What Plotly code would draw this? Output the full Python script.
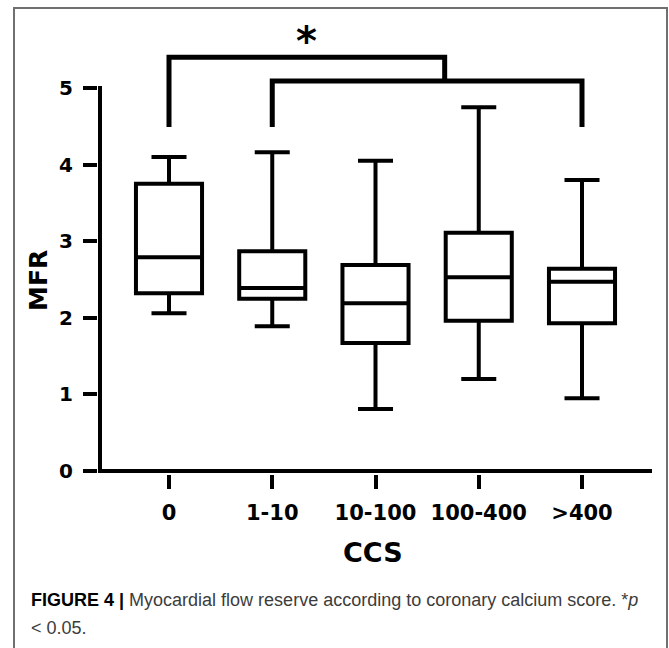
import plotly.graph_objects as go

# ---- data ----
categories = ["0", "1-10", "10-100", "100-400", ">400"]
whisker_low = [2.06, 1.89, 0.81, 1.20, 0.95]
q1 = [2.32, 2.25, 1.67, 1.96, 1.93]
median = [2.79, 2.39, 2.19, 2.53, 2.47]
q3 = [3.75, 2.87, 2.69, 3.11, 2.64]
whisker_high = [4.10, 4.16, 4.05, 4.75, 3.80]
y_ticks = [0, 1, 2, 3, 4, 5]

# significance brackets: (x_left, x_right, level, leg bottom left, leg bottom right)
bracket_a = (0, 2.67, 5.40, 4.49, 5.09)
bracket_b = (1, 4, 5.09, 4.49, 4.49)
star_label = "*"

x_title = "CCS"
y_title = "MFR"
caption1 = ("<b>FIGURE 4 |</b> <span style='color:#3c3c3c'>Myocardial flow reserve according "
            "to coronary calcium score. *<i>p</i></span>")
caption2 = "<span style='color:#3c3c3c'>< 0.05.</span>"

# ---- geometry ----
W, H = 669, 648
L, R, T, B = 98, 654, 14, 474
px_per_x = 103.25
px_per_y = 76.6
x0_pix = 169
y0_pix = 471
xr = [-(x0_pix - L) / px_per_x, (R - x0_pix) / px_per_x]
yr = [-(B - y0_pix) / px_per_y, (y0_pix - T) / px_per_y]
pw, ph = R - L, B - T

def px(xp):
    return (xp - L) / pw

def py(yp):
    return (B - yp) / ph

idx = list(range(len(categories)))

fig = go.Figure()
fig.add_trace(go.Box(
    x=idx, q1=q1, median=median, q3=q3,
    lowerfence=whisker_low, upperfence=whisker_high,
    width=0.64, whiskerwidth=0.53,
    line=dict(color="black", width=4), fillcolor="white",
    boxpoints=False, showlegend=False, hoverinfo="skip",
))

shapes = []
# axis lines
shapes.append(dict(type="line", xref="x", yref="y",
                   x0=xr[0] + 2 / px_per_x, x1=xr[0] + 2 / px_per_x,
                   y0=-2 / px_per_y, y1=y_ticks[-1] + 2 / px_per_y,
                   line=dict(color="black", width=4)))
shapes.append(dict(type="line", xref="x", yref="y",
                   x0=xr[0], x1=xr[0] + 554 / px_per_x, y0=0, y1=0,
                   line=dict(color="black", width=4)))
# brackets
for (xa, xb, lvl, la, lb) in (bracket_a, bracket_b):
    shapes.append(dict(type="path", xref="x", yref="y",
                       path=f"M {xa},{la} L {xa},{lvl} L {xb},{lvl} L {xb},{lb}",
                       line=dict(color="black", width=5)))
# frame
shapes.append(dict(type="rect", xref="paper", yref="paper",
                   x0=px(14), x1=px(667), y0=py(690), y1=py(8),
                   line=dict(color="#707070", width=2), fillcolor="rgba(0,0,0,0)"))

ann = []
ann.append(dict(x=(bracket_a[0] + bracket_a[1]) / 2, y=5.69, xref="x", yref="y",
                text=star_label, showarrow=False, yshift=-6,
                font=dict(family="DejaVu Sans", size=40, color="black", weight="bold")))
ann.append(dict(x=px(38), y=py(281), xref="paper", yref="paper", text=y_title,
                textangle=-90, showarrow=False, xanchor="center", yanchor="middle",
                font=dict(family="DejaVu Sans", size=25, color="black", weight="bold")))
ann.append(dict(x=px(373), y=py(552), xref="paper", yref="paper", text=x_title,
                showarrow=False, xanchor="center", yanchor="middle",
                font=dict(family="DejaVu Sans", size=27, color="black", weight="bold")))
ann.append(dict(x=px(29), y=py(600), xref="paper", yref="paper", text=caption1,
                showarrow=False, xanchor="left", yanchor="middle", align="left",
                font=dict(family="Liberation Sans", size=18, color="black")))
ann.append(dict(x=px(29), y=py(628), xref="paper", yref="paper", text=caption2,
                showarrow=False, xanchor="left", yanchor="middle", align="left",
                font=dict(family="Liberation Sans", size=18, color="black")))

fig.update_layout(
    width=W, height=H,
    margin=dict(l=L, r=W - R, t=T, b=H - B, pad=0),
    paper_bgcolor="white", plot_bgcolor="white",
    shapes=shapes, annotations=ann, showlegend=False,
    xaxis=dict(range=xr, tickvals=idx, ticktext=categories,
               showgrid=False, zeroline=False, showline=False,
               ticks="outside", ticklen=14, tickwidth=4, tickcolor="black",
               ticklabelstandoff=6,
               tickfont=dict(family="DejaVu Sans", size=21, color="black", weight="bold")),
    yaxis=dict(range=yr, tickvals=y_ticks, ticktext=[str(v) for v in y_ticks],
               showgrid=False, zeroline=False, showline=False,
               ticks="outside", ticklen=14, tickwidth=4, tickcolor="black",
               ticklabelstandoff=6,
               tickfont=dict(family="DejaVu Sans", size=20, color="black", weight="bold")),
)

fig.write_html(
    "out.html",
    config={"displayModeBar": False},
    post_script="document.body.style.margin='0';document.body.style.overflow='hidden';",
)
